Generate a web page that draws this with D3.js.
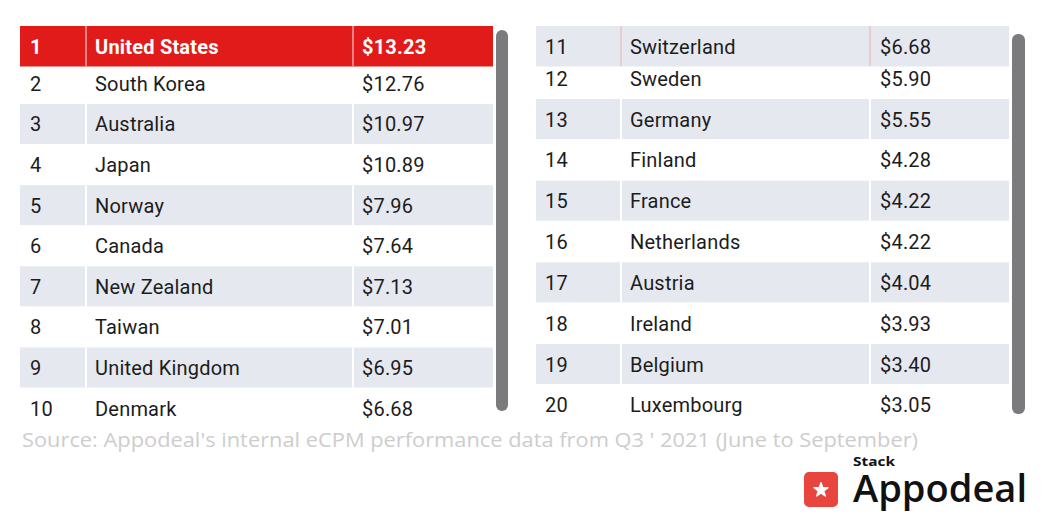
<!DOCTYPE html>
<html><head><meta charset="utf-8">
<script src="https://cdn.jsdelivr.net/npm/d3@7"></script>
<style>html,body{margin:0;padding:0;background:#fff;}svg{display:block;}</style>
</head><body>
<svg id="c" width="1044" height="526"></svg>
<script>
const ranks = [1,2,3,4,5,6,7,8,9,10,11,12,13,14,15,16,17,18,19,20];
const countries = ["United States","South Korea","Australia","Japan","Norway","Canada","New Zealand","Taiwan","United Kingdom","Denmark",
  "Switzerland","Sweden","Germany","Finland","France","Netherlands","Austria","Ireland","Belgium","Luxembourg"];
const values = [13.23,12.76,10.97,10.89,7.96,7.64,7.13,7.01,6.95,6.68,
  6.68,5.90,5.55,4.28,4.22,4.22,4.04,3.93,3.40,3.05];
const sourceText = "Source: Appodeal's internal eCPM performance data from Q3 ' 2021 (June to September)";

const svg = d3.select("#c");
const fmt = v => "$" + d3.format(".2f")(v);
const rows = ranks.map((r,i)=>({rank:r, country:countries[i], value:values[i]}));

const tables = [
  {data: rows.slice(0,10), x0:20, x1:493, c1:86, c2:353, tx:[30,95,362], yDom:[3,9], yRng:[104,347.5], header:"red", sb:[496,30,12,381]},
  {data: rows.slice(10,20), x0:536, x1:1009, c1:621, c2:870, tx:[545,630,880], yDom:[13,19], yRng:[99,344], header:"gray", sb:[1012,34,13,380]}
];

const RED = "#e01b19", GRAY = "#e6e8f0";

tables.forEach(t => {
  const y = d3.scaleLinear().domain(t.yDom).range(t.yRng);
  const rowH = (t.yRng[1]-t.yRng[0])/(t.yDom[1]-t.yDom[0]);
  const first = t.data[0].rank;
  const g = svg.append("g");
  const top = r => r === first ? 26 : y(r);
  const ctr = r => r === first ? 46.5 : y(r) + rowH/2;
  const shaded = t.data.filter(d => d.rank === first || (d.rank - first) % 2 === 0);
  g.selectAll("rect.bg").data(shaded)
    .join("rect").attr("class","bg")
    .attr("x", t.x0).attr("width", t.x1 - t.x0)
    .attr("y", d => top(d.rank)).attr("height", d => d.rank === first ? 40.5 : 40)
    .attr("fill", d => d.rank === first ? (t.header === "red" ? RED : GRAY) : GRAY);
  shaded.forEach(d => {
    [t.c1, t.c2].forEach(cx => {
      g.append("line").attr("x1", cx).attr("x2", cx)
        .attr("y1", top(d.rank)).attr("y2", top(d.rank) + 40)
        .attr("stroke", d.rank === first ? (t.header === "red" ? "#f3c9c6" : "#e7b9bb") : "#ffffff")
        .attr("stroke-width", d.rank === first ? 1.2 : 2);
    });
  });
  const cols = [d => String(d.rank), d => d.country, d => fmt(d.value)];
  cols.forEach((fn, ci) => {
    g.selectAll("text.c"+ci).data(t.data).join("text").attr("class","c"+ci)
      .attr("x", t.tx[ci]).attr("y", d => ctr(d.rank)).attr("dy","0.36em")
      .attr("font-family","Roboto, sans-serif").attr("font-size", 20)
      .attr("font-weight", d => (d.rank === first && t.header === "red") ? 700 : 400)
      .attr("fill", d => (d.rank === first && t.header === "red") ? "#ffffff" : "#1c1c1c")
      .attr("letter-spacing", 0.2)
      .text(fn);
  });
  g.append("rect").attr("x", t.sb[0]).attr("y", t.sb[1]).attr("width", t.sb[2]).attr("height", t.sb[3])
    .attr("rx", 6).attr("fill", "#7b7b7d");
});

svg.append("text").attr("x", 22).attr("y", 447)
  .attr("font-family","Open Sans, sans-serif").attr("font-size", 19.5)
  .attr("fill","#cdcdcd").attr("textLength", 896).attr("lengthAdjust","spacingAndGlyphs")
  .text(sourceText);

const lg = svg.append("g");
lg.append("rect").attr("x",804).attr("y",472).attr("width",34).attr("height",35).attr("rx",5).attr("fill","#e8453e");
const star = d3.symbol().type(d3.symbolStar).size(60);
lg.append("path").attr("d", star()).attr("transform","translate(821,490)").attr("fill","#fff")
  .attr("stroke","#fff").attr("stroke-width",1.5).attr("stroke-linejoin","round");
lg.append("text").attr("x",853).attr("y",466).attr("font-family","Open Sans, sans-serif").attr("font-weight",700)
  .attr("font-size",13).attr("fill","#111").attr("textLength",42).attr("lengthAdjust","spacingAndGlyphs").text("Stack");
lg.append("text").attr("x",853).attr("y",502).attr("font-family","Open Sans, sans-serif").attr("font-weight",600)
  .attr("font-size",37).attr("fill","#111").attr("textLength",174).attr("lengthAdjust","spacingAndGlyphs").text("Appodeal");
</script>
</body></html>
